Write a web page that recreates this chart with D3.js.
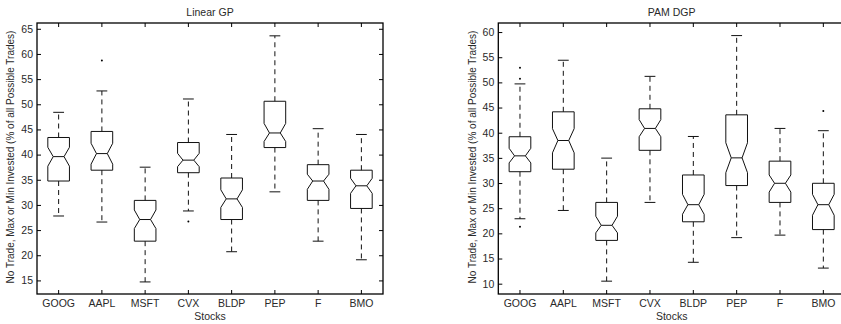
<!DOCTYPE html>
<html>
<head>
<meta charset="utf-8">
<script src="https://cdn.jsdelivr.net/npm/d3@7"></script>
<style>
  body { margin: 0; background: #fff; }
  svg text { font-family: "Liberation Sans", Arial, Helvetica, sans-serif; fill: #2a2a2a; }
</style>
</head>
<body>
<script>
var width = 841;
var height = 324;

// ------- data --------

var stocks = ['GOOG', 'AAPL', 'MSFT', 'CVX', 'BLDP', 'PEP', 'F', 'BMO'];

// Linear GP
var linWhiskHi = [48.4, 52.65, 37.5, 51.05, 44.0, 63.6, 45.15, 44.0];
var linQ3      = [43.4, 44.6, 30.9, 42.4, 35.35, 50.6, 38.0, 36.9];
var linNotchHi = [41.45, 42.25, 29.0, 40.25, 33.0, 46.2, 36.1, 35.3];
var linMedian  = [39.6, 40.2, 27.1, 38.9, 31.2, 44.3, 34.75, 33.8];
var linNotchLo = [37.7, 38.1, 25.3, 37.6, 29.5, 42.6, 33.1, 32.3];
var linQ1      = [34.75, 36.9, 22.8, 36.4, 27.1, 41.4, 30.9, 29.3];
var linWhiskLo = [27.8, 26.6, 14.7, 28.8, 20.7, 32.6, 22.8, 19.1];
var linOutliers = [[], [58.7], [], [26.7], [], [], [], []];
var linTicks = [15, 20, 25, 30, 35, 40, 45, 50, 55, 60, 65];

// PAM DGP
var pamWhiskHi = [49.7, 54.4, 34.95, 51.2, 39.25, 59.3, 40.85, 40.4];
var pamQ3      = [39.2, 44.15, 26.15, 44.75, 31.6, 43.55, 34.35, 29.95];
var pamNotchHi = [36.9, 40.8, 23.4, 42.6, 27.75, 38.0, 31.6, 27.75];
var pamMedian  = [35.4, 38.45, 21.6, 40.85, 25.7, 35.0, 29.95, 25.7];
var pamNotchLo = [34.0, 36.0, 20.1, 39.2, 23.8, 32.05, 28.2, 23.6];
var pamQ1      = [32.25, 32.75, 18.6, 36.5, 22.3, 29.5, 26.15, 20.75];
var pamWhiskLo = [22.9, 24.55, 10.5, 26.15, 14.25, 19.15, 19.65, 13.1];
var pamOutliers = [[52.9, 50.7, 21.3], [], [], [], [], [], [], [44.3]];
var pamTicks = [10, 15, 20, 25, 30, 35, 40, 45, 50, 55, 60];

var yLabel = 'No Trade, Max or Min Invested (% of all Possible Trades)';

// ------- SVG --------

var svg = d3.select('body')
    .append('svg')
    .attr('width', width)
    .attr('height', height);

function build(a) {
    return stocks.map(function(s, i) {
        return {
            name: s,
            hi: a.hi[i], q3: a.q3[i], nhi: a.nhi[i], med: a.med[i],
            nlo: a.nlo[i], q1: a.q1[i], lo: a.lo[i], out: a.out[i]
        };
    });
}

function panel(opt) {
    var data = build(opt);
    var g = svg.append('g');

    var x = d3.scaleBand()
            .range([opt.left, opt.right])
            .padding(0)
            .domain(stocks),
        y = d3.scaleLinear()
            .range([294, 23])
            .domain(opt.domain);

    var bw = x.bandwidth() * 0.5;
    var cx = function(d) { return x(d.name) + x.bandwidth() / 2; };

    // axes (ticks point inwards on all four sides)
    g.append('g')
        .attr('transform', 'translate(0,294)')
        .call(d3.axisBottom(x).tickSizeInner(-4).tickSizeOuter(0).tickPadding(6))
        .call(styleAxis);
    g.append('g')
        .attr('transform', 'translate(0,23)')
        .call(d3.axisTop(x).tickSizeInner(-4).tickSizeOuter(0).tickFormat(''))
        .call(styleAxis);
    g.append('g')
        .attr('transform', 'translate(' + opt.left + ',0)')
        .call(d3.axisLeft(y).tickValues(opt.ticks).tickSizeInner(-4).tickSizeOuter(0).tickPadding(4))
        .call(styleAxis);
    g.append('g')
        .attr('transform', 'translate(' + opt.right + ',0)')
        .call(d3.axisRight(y).tickValues(opt.ticks).tickSizeInner(-4).tickSizeOuter(0).tickFormat(''))
        .call(styleAxis);

    g.append('rect')
        .attr('x', opt.left)
        .attr('y', 23)
        .attr('width', opt.right - opt.left)
        .attr('height', 271)
        .attr('fill', 'none')
        .attr('stroke', '#000')
        .attr('stroke-width', 1.3);

    var box = g.selectAll('g.box')
        .data(data)
        .enter()
        .append('g')
        .attr('class', 'box');

    // dashed whiskers
    box.append('line')
        .attr('x1', cx).attr('x2', cx)
        .attr('y1', function(d) { return y(d.q3); })
        .attr('y2', function(d) { return y(d.hi); })
        .attr('stroke', '#111')
        .attr('stroke-dasharray', '5,4');
    box.append('line')
        .attr('x1', cx).attr('x2', cx)
        .attr('y1', function(d) { return y(d.q1); })
        .attr('y2', function(d) { return y(d.lo); })
        .attr('stroke', '#111')
        .attr('stroke-dasharray', '5,4');

    // caps
    box.append('line')
        .attr('x1', function(d) { return cx(d) - bw / 4; })
        .attr('x2', function(d) { return cx(d) + bw / 4; })
        .attr('y1', function(d) { return y(d.hi); })
        .attr('y2', function(d) { return y(d.hi); })
        .attr('stroke', '#111');
    box.append('line')
        .attr('x1', function(d) { return cx(d) - bw / 4; })
        .attr('x2', function(d) { return cx(d) + bw / 4; })
        .attr('y1', function(d) { return y(d.lo); })
        .attr('y2', function(d) { return y(d.lo); })
        .attr('stroke', '#111');

    // notched box
    box.append('path')
        .attr('d', function(d) {
            var c = cx(d), h = bw / 2, n = bw / 4;
            return 'M' + (c - h) + ',' + y(d.q3) +
                'L' + (c + h) + ',' + y(d.q3) +
                'L' + (c + h) + ',' + y(d.nhi) +
                'L' + (c + n) + ',' + y(d.med) +
                'L' + (c + h) + ',' + y(d.nlo) +
                'L' + (c + h) + ',' + y(d.q1) +
                'L' + (c - h) + ',' + y(d.q1) +
                'L' + (c - h) + ',' + y(d.nlo) +
                'L' + (c - n) + ',' + y(d.med) +
                'L' + (c - h) + ',' + y(d.nhi) + 'Z';
        })
        .attr('fill', 'none')
        .attr('stroke', '#111');

    // median
    box.append('line')
        .attr('x1', function(d) { return cx(d) - bw / 4; })
        .attr('x2', function(d) { return cx(d) + bw / 4; })
        .attr('y1', function(d) { return y(d.med); })
        .attr('y2', function(d) { return y(d.med); })
        .attr('stroke', '#111');

    // outliers
    box.selectAll('circle')
        .data(function(d) { return d.out.map(function(v) { return { name: d.name, v: v }; }); })
        .enter()
        .append('circle')
        .attr('cx', cx)
        .attr('cy', function(d) { return y(d.v); })
        .attr('r', 1)
        .attr('fill', '#000');

    // labels
    var mid = (opt.left + opt.right) / 2;
    g.append('text')
        .attr('x', mid).attr('y', 15.5)
        .attr('text-anchor', 'middle')
        .style('font-size', '10.5px')
        .text(opt.title);
    g.append('text')
        .attr('x', mid).attr('y', 320)
        .attr('text-anchor', 'middle')
        .style('font-size', '10.5px')
        .text('Stocks');
    g.append('text')
        .attr('transform', 'translate(' + opt.labelX + ',157) rotate(-90)')
        .attr('text-anchor', 'middle')
        .style('font-size', '10px')
        .text(yLabel);
}

function styleAxis(sel) {
    sel.select('.domain').remove();
    sel.selectAll('.tick line').attr('stroke', '#000');
    sel.selectAll('.tick text')
        .style('font-size', '10.5px')
        .style('font-family', '"Liberation Sans", Arial, sans-serif')
        .attr('fill', '#2a2a2a');
}

panel({
    title: 'Linear GP', left: 37, right: 383, domain: [12.3, 66.15], ticks: linTicks, labelX: 14.3,
    hi: linWhiskHi, q3: linQ3, nhi: linNotchHi, med: linMedian, nlo: linNotchLo, q1: linQ1, lo: linWhiskLo, out: linOutliers
});
panel({
    title: 'PAM DGP', left: 498.3, right: 845, domain: [7.95, 61.8], ticks: pamTicks, labelX: 476,
    hi: pamWhiskHi, q3: pamQ3, nhi: pamNotchHi, med: pamMedian, nlo: pamNotchLo, q1: pamQ1, lo: pamWhiskLo, out: pamOutliers
});
</script>
</body>
</html>
